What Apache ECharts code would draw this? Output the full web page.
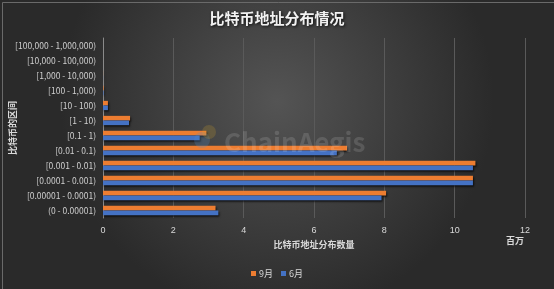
<!DOCTYPE html>
<html><head><meta charset="utf-8">
<script src="https://cdn.jsdelivr.net/npm/echarts@6/dist/echarts.min.js"></script>
<style>html,body{margin:0;padding:0;background:#2b2b2b;}#c{width:554px;height:289px;}</style>
</head><body><div id="c"></div>
<script>
const categories = ['(0 - 0.00001)','[0.00001 - 0.0001)','[0.0001 - 0.001)','[0.001 - 0.01)','[0.01 - 0.1)','[0.1 - 1)','[1 - 10)','[10 - 100)','[100 - 1,000)','[1,000 - 10,000)','[10,000 - 100,000)','[100,000 - 1,000,000)'];
const sep = [3.20, 8.05, 10.52, 10.59, 6.94, 2.94, 0.77, 0.14, 0.016, 0.002, 0.0001, 0.000003];
const jun = [3.28, 7.92, 10.52, 10.52, 6.65, 2.75, 0.74, 0.14, 0.016, 0.002, 0.0001, 0.000003];
const xTicks = [0, 2, 4, 6, 8, 10, 12];
const font = '"Microsoft YaHei","Noto Sans CJK SC",sans-serif';
const chart = echarts.init(document.getElementById('c'));
chart.setOption({
  backgroundColor: {type:'radial', x:0.5, y:0.35, r:0.75, colorStops:[{offset:0,color:'#545454'},{offset:1,color:'#2a2a2a'}]},
  animation:false,
  title:{text:'比特币地址分布情况', left:'center', top:6, textStyle:{color:'#f2f2f2', fontSize:15, fontWeight:'bold', fontFamily:font, textShadowColor:'rgba(0,0,0,0.8)', textShadowBlur:3, textShadowOffsetX:1, textShadowOffsetY:1}},
  graphic:[
    {type:'rect', left:0, top:0, shape:{width:553, height:288}, style:{fill:'none', stroke:'#6a6a6a', lineWidth:1}, z:-1},
    {type:'text', left:224, top:129, style:{text:'ChainAegis', fill:'rgba(255,255,255,0.13)', font:'bold 26px '+font}, z:100},
    {type:'circle', left:194, top:132, shape:{r:8}, style:{fill:'rgba(80,140,200,0.25)'}, z:100},
    {type:'circle', left:202, top:125, shape:{r:7}, style:{fill:'rgba(220,170,40,0.2)'}, z:100},
    {type:'text', left:506, top:236, style:{text:'百万', fill:'#d9d9d9', font:'bold 9px '+font}},
    {type:'text', x:13, y:128, rotation:Math.PI/2, style:{text:'比特币的区间', fill:'#d9d9d9', font:'bold 9px '+font, align:'center', verticalAlign:'middle'}}
  ],
  legend:{data:['9月','6月'], bottom:6, left:'center', itemWidth:5, itemHeight:5, itemGap:8, icon:'rect', textStyle:{color:'#d9d9d9', fontSize:9, fontFamily:font, padding:[0,0,0,-2]}},
  grid:{left:103, right:29, top:38, bottom:71, containLabel:false, outerBoundsMode:'none'},
  xAxis:{type:'value', min:0, max:12, interval:2,
    name:'比特币地址分布数量', nameLocation:'middle', nameGap:14,
    nameTextStyle:{color:'#d9d9d9', fontSize:9, fontWeight:'bold', fontFamily:font},
    axisLine:{show:false}, axisTick:{show:false},
    axisLabel:{color:'#d9d9d9', fontSize:9, margin:8, formatter:v=>xTicks.includes(v)?String(v):''},
    splitLine:{lineStyle:{color:'#5a5a5a', width:1}}},
  yAxis:{type:'category', data:categories,
    axisLine:{lineStyle:{color:'#8a8a8a'}}, axisTick:{show:false},
    axisLabel:{color:'#d0d0d0', fontSize:8.5, margin:7, fontFamily:font}},
  series:[
    {name:'9月', type:'bar', data:sep, barGap:'0%', barCategoryGap:'38%', itemStyle:{color:'#ED7D31', shadowColor:'rgba(0,0,0,0.7)', shadowBlur:2, shadowOffsetX:1, shadowOffsetY:1.5}},
    {name:'6月', type:'bar', data:jun, barGap:'0%', barCategoryGap:'38%', itemStyle:{color:'#4472C4', shadowColor:'rgba(0,0,0,0.7)', shadowBlur:2, shadowOffsetX:1, shadowOffsetY:1.5}}
  ]
});
</script></body></html>
